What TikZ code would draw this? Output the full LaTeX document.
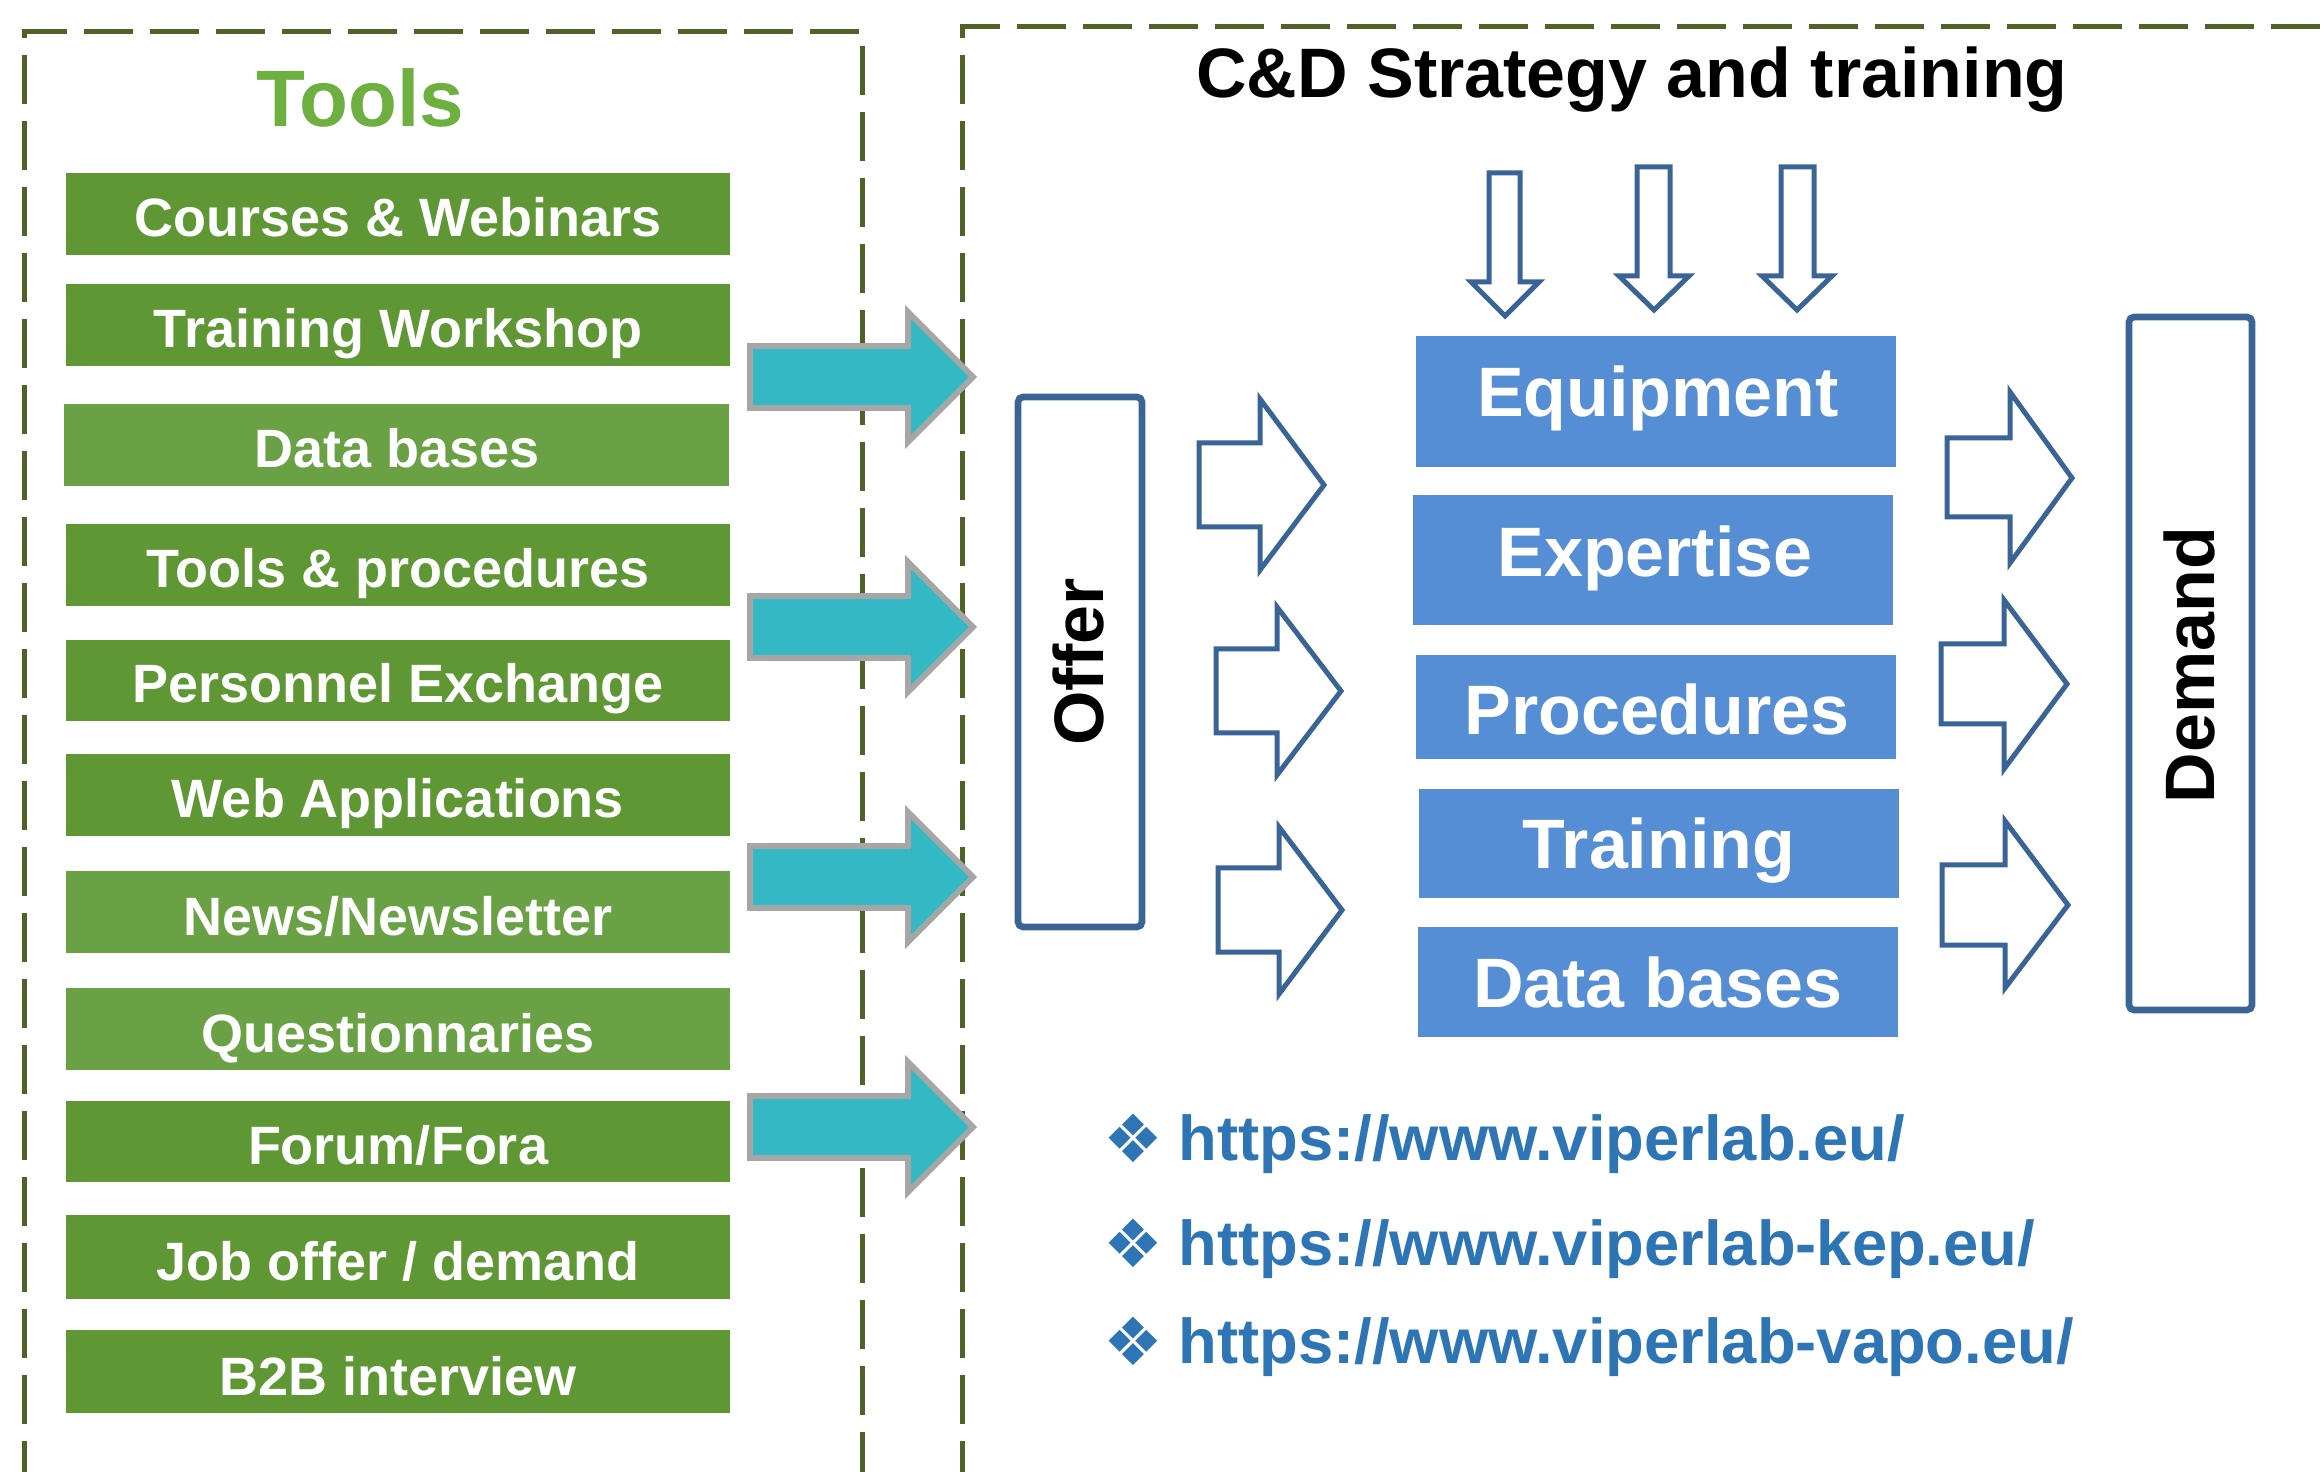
\documentclass[tikz,border=0pt]{standalone}
\usepackage{fontspec}
\setmainfont{Liberation Sans}
\newfontfamily\symbolfont{DejaVu Sans}
\definecolor{framegreen}{HTML}{4F6228}
\definecolor{toolsgreen}{HTML}{6DB03F}
\definecolor{tooldarkgreen}{HTML}{5F9735}
\definecolor{toollightgreen}{HTML}{6AA145}
\definecolor{resblue}{HTML}{558ED5}
\definecolor{feedteal}{HTML}{34B8C4}
\definecolor{feedgray}{HTML}{A6A6A6}
\definecolor{lineblue}{HTML}{3A6496}
\definecolor{linkblue}{HTML}{2E75B6}
\begin{document}
\begin{tikzpicture}[x=0.3pt, y=-0.3pt,
    dashframe/.style={line width=1.5pt, draw=framegreen, dash pattern=on 14.7pt off 5.1pt},
    tooldark/.style={fill=tooldarkgreen},
    toollight/.style={fill=toollightgreen},
    tooltext/.style={text=white, anchor=base, inner sep=0pt, font=\bfseries\fontsize{16.2}{18}\selectfont},
    resbox/.style={fill=resblue},
    restext/.style={text=white, anchor=base, inner sep=0pt, font=\bfseries\fontsize{21}{24}\selectfont},
    feedarrow/.style={fill=feedteal, draw=feedgray, line width=1.7pt},
    hollowarrow/.style={fill=white, draw=lineblue, line width=1.5pt},
    sidebox/.style={draw=lineblue, line width=2pt, rounded corners=1.5pt},
    sidetext/.style={rotate=90, inner sep=0pt, font=\bfseries\fontsize{21}{24}\selectfont},
    linktext/.style={text=linkblue, anchor=base west, inner sep=0pt, font=\bfseries\fontsize{19}{22}\selectfont},
    linkbullet/.style={text=linkblue, anchor=base, inner sep=0pt, font=\symbolfont\fontsize{20}{22}\selectfont}]

    \useasboundingbox (0,0) rectangle (2323,1472);

    % --- Cornici tratteggiate ---
    \draw[dashframe] (24,1490) -- (24,32) -- (862,32) -- (862,1490);
    \draw[dashframe] (962,1490) -- (962,27) -- (2340,27);

    % --- Titoli ---
    \node[anchor=base, inner sep=0pt, text=toolsgreen, font=\bfseries\fontsize{24}{28}\selectfont] (toolstitle) at (360,127) {Tools};
    \node[anchor=base, inner sep=0pt, font=\bfseries\fontsize{21}{24}\selectfont] (strategytitle) at (1632,98) {C\&D Strategy and training};

    % --- Strumenti (colonna verde) ---
    \fill[tooldark]  (66,173)  rectangle (730,255);
    \fill[tooldark]  (66,284)  rectangle (730,366);
    \fill[toollight] (64,404)  rectangle (729,486);
    \fill[tooldark]  (66,524)  rectangle (730,606);
    \fill[tooldark]  (66,640)  rectangle (730,721);
    \fill[tooldark]  (66,754)  rectangle (730,836);
    \fill[toollight] (66,871)  rectangle (730,953);
    \fill[toollight] (66,988)  rectangle (730,1070);
    \fill[tooldark]  (66,1101) rectangle (730,1182);
    \fill[tooldark]  (66,1215) rectangle (730,1299);
    \fill[tooldark]  (66,1330) rectangle (730,1413);

    \node[tooltext] (courses)    at (398,237)  {Courses \& Webinars};
    \node[tooltext] (workshop)   at (398,348)  {Training Workshop};
    \node[tooltext] (databases)  at (397,468)  {Data bases};
    \node[tooltext] (procedures) at (398,588)  {Tools \& procedures};
    \node[tooltext] (exchange)   at (398,703)  {Personnel Exchange};
    \node[tooltext] (webapps)    at (398,818)  {Web Applications};
    \node[tooltext] (news)       at (398,935)  {News/Newsletter};
    \node[tooltext] (survey)     at (398,1052) {Questionnaries};
    \node[tooltext] (forum)      at (398,1164) {Forum/Fora};
    \node[tooltext] (jobs)       at (398,1280) {Job offer / demand};
    \node[tooltext] (btob)       at (398,1395) {B2B interview};

    % --- Frecce verso l'offerta ---
    \draw[feedarrow] (750,346) -- (908,346) -- (908,312) -- (973,377) -- (908,442) -- (908,408) -- (750,408) -- cycle;
    \draw[feedarrow] (750,596) -- (908,596) -- (908,562) -- (973,627) -- (908,692) -- (908,658) -- (750,658) -- cycle;
    \draw[feedarrow] (750,846) -- (908,846) -- (908,812) -- (973,877) -- (908,942) -- (908,908) -- (750,908) -- cycle;
    \draw[feedarrow] (750,1096) -- (908,1096) -- (908,1062) -- (973,1127) -- (908,1192) -- (908,1158) -- (750,1158) -- cycle;

    % --- Offerta e domanda ---
    \draw[sidebox] (1018,397) rectangle (1142,927);
    \node[sidetext] (offer) at (1078,662) {Offer};
    \draw[sidebox] (2129,317) rectangle (2252,1010);
    \node[sidetext] (demand) at (2189,665) {Demand};

    % --- Frecce vuote: offerta -> risorse ---
    \draw[hollowarrow] (1199,443) -- (1260,443) -- (1260,399) -- (1324,485) -- (1260,570) -- (1260,527) -- (1199,527) -- cycle;
    \draw[hollowarrow] (1216,649) -- (1277,649) -- (1277,607) -- (1341,691) -- (1277,775) -- (1277,733) -- (1216,733) -- cycle;
    \draw[hollowarrow] (1218,868) -- (1279,868) -- (1279,827) -- (1342,910) -- (1279,994) -- (1279,952) -- (1218,952) -- cycle;

    % --- Frecce vuote: risorse -> domanda ---
    \draw[hollowarrow] (1947,438) -- (2010,438) -- (2010,392) -- (2072,478) -- (2010,563) -- (2010,517) -- (1947,517) -- cycle;
    \draw[hollowarrow] (1941,644) -- (2004,644) -- (2004,600) -- (2067,684) -- (2004,769) -- (2004,724) -- (1941,724) -- cycle;
    \draw[hollowarrow] (1942,865) -- (2005,865) -- (2005,821) -- (2068,905) -- (2005,988) -- (2005,945) -- (1942,945) -- cycle;

    % --- Frecce vuote dall'alto ---
    \draw[hollowarrow] (1489,173) -- (1520,173) -- (1520,282) -- (1539,282) -- (1505,316) -- (1471,282) -- (1489,282) -- cycle;
    \draw[hollowarrow] (1637,167) -- (1670,167) -- (1670,276) -- (1689,276) -- (1654,310) -- (1619,276) -- (1637,276) -- cycle;
    \draw[hollowarrow] (1781,167) -- (1814,167) -- (1814,276) -- (1832,276) -- (1797,310) -- (1762,276) -- (1781,276) -- cycle;

    % --- Risorse (colonna blu) ---
    \fill[resbox] (1416,336) rectangle (1896,467);
    \fill[resbox] (1413,495) rectangle (1893,625);
    \fill[resbox] (1416,655) rectangle (1896,759);
    \fill[resbox] (1419,789) rectangle (1899,898);
    \fill[resbox] (1418,927) rectangle (1898,1037);

    \node[restext] (equipment)  at (1658,417)  {Equipment};
    \node[restext] (expertise)  at (1655,577)  {Expertise};
    \node[restext] (resproc)    at (1657,735)  {Procedures};
    \node[restext] (training)   at (1659,869)  {Training};
    \node[restext] (resdata)    at (1658,1007) {Data bases};

    % --- Siti web ---
    \node[linkbullet] (bulletA) at (1133,1162) {❖};
    \node[linktext]   (siteA)   at (1178,1160) {https://www.viperlab.eu/};
    \node[linkbullet] (bulletB) at (1133,1267) {❖};
    \node[linktext]   (siteB)   at (1178,1265) {https://www.viperlab-kep.eu/};
    \node[linkbullet] (bulletC) at (1133,1365) {❖};
    \node[linktext]   (siteC)   at (1178,1363) {https://www.viperlab-vapo.eu/};

\end{tikzpicture}
\end{document}
